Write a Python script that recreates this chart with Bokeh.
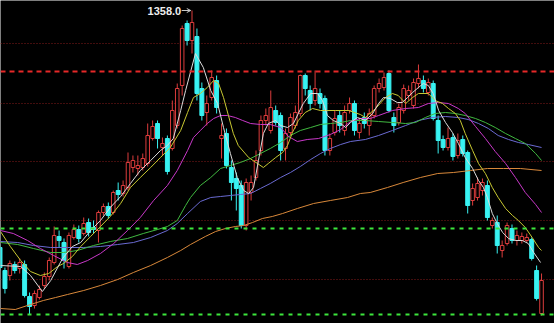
from bokeh.plotting import figure
from bokeh.models import Range1d, Span, Arrow, OpenHead
from bokeh.embed import file_html
from bokeh.resources import INLINE
from bokeh.core.properties import value

# ---------------- data ----------------
opens = [1239.5, 1228, 1225.5, 1231, 1229, 1231, 1215, 1210.5, 1214.5, 1220.5,
         1225, 1232, 1245, 1242, 1230, 1244.5, 1248.5, 1246.5, 1252, 1249.5,
         1248, 1257, 1260, 1257, 1268, 1266.5, 1269.5, 1279.5, 1279, 1279.5,
         1281.5, 1294, 1301.5, 1289.5, 1294, 1289, 1300.5, 1320.5, 1351.5, 1343,
         1345, 1319, 1307, 1314.5, 1323, 1294, 1296.5, 1279.5, 1274, 1270.5,
         1250.5, 1267, 1274.5, 1288, 1303, 1298, 1308, 1305.5, 1289, 1297,
         1300.5, 1306.5, 1325.5, 1318, 1313, 1316.5, 1314, 1288, 1297, 1305.5,
         1298, 1308, 1311.5, 1297, 1304.5, 1300.5, 1305.5, 1319, 1319.5, 1326.5,
         1304.5, 1302, 1308, 1315.5, 1310.5, 1321.5, 1323, 1317, 1321.5, 1303,
         1293.5, 1289.5, 1294.5, 1285.5, 1293.5, 1287, 1263, 1264.5, 1268, 1270.5,
         1250.5, 1252, 1238, 1241.5, 1249, 1243, 1243, 1243, 1243.5, 1228,
         1206.5]
highs = [1241, 1229.5, 1233, 1232.5, 1234, 1233, 1217, 1218, 1220.5, 1227,
         1234.5, 1250, 1248, 1244, 1247, 1251, 1250.5, 1254.5, 1254, 1253,
         1258, 1261.5, 1262, 1268, 1272, 1273, 1287, 1285.5, 1285.5, 1286.5,
         1301.5, 1303, 1303, 1294.5, 1295.5, 1313, 1321.5, 1350.5, 1353, 1358,
         1349, 1322, 1315.5, 1328, 1325.5, 1301.5, 1299, 1283, 1277, 1273,
         1274, 1275.5, 1288, 1305.5, 1309, 1318, 1310.5, 1307, 1299, 1306.5,
         1310.5, 1326, 1326.5, 1320.5, 1328, 1319, 1315.5, 1296.5, 1308, 1308,
         1310.5, 1314.5, 1313, 1304, 1307, 1309, 1320.5, 1324, 1327, 1328,
         1307, 1311.5, 1321, 1320.5, 1324, 1331, 1325.5, 1324, 1323, 1305.5,
         1295.5, 1299.5, 1296.5, 1296.5, 1295.5, 1288, 1271.5, 1274.5, 1274, 1273,
         1254.5, 1255.5, 1243, 1252, 1251, 1248, 1247, 1246.5, 1244.5, 1230.5,
         1226.5]
lows = [1228, 1216.5, 1223, 1226.5, 1226.5, 1214.5, 1206, 1209, 1213.5, 1219,
        1223, 1231, 1239.5, 1229, 1229, 1243.5, 1242, 1245.5, 1245, 1246.5,
        1242, 1255.5, 1254, 1256, 1263, 1265, 1268, 1277, 1275.5, 1278,
        1280, 1293, 1289, 1285.5, 1276, 1288, 1299, 1315.5, 1340.5, 1336.5,
        1313, 1303, 1300.5, 1313, 1306.5, 1284, 1279, 1263, 1258, 1249,
        1248, 1263, 1273, 1285.5, 1300.5, 1296.5, 1300.5, 1283, 1283, 1295.5,
        1299, 1305, 1315.5, 1308, 1310.5, 1309, 1285.5, 1285.5, 1295.5, 1297,
        1295.5, 1306.5, 1295.5, 1294, 1299, 1295.5, 1304, 1317, 1318, 1307,
        1297, 1300.5, 1306.5, 1313, 1309, 1319, 1317, 1315.5, 1303, 1286.5,
        1288, 1288, 1283, 1284, 1285, 1256.5, 1260.5, 1263, 1265.5, 1253,
        1249, 1236.5, 1234.5, 1240.5, 1241.5, 1240.5, 1241.5, 1242, 1233, 1213,
        1205.5]
closes = [1229.5, 1219, 1231.5, 1228, 1232, 1215.5, 1210, 1216.5, 1218.5, 1225,
          1233, 1245.5, 1243, 1233, 1245.5, 1248.5, 1244, 1251.5, 1247, 1248.5,
          1257, 1260, 1255.5, 1267, 1266, 1270.5, 1282, 1283, 1280.5, 1284,
          1295.5, 1300, 1294, 1291.5, 1277.5, 1308, 1319, 1349, 1343, 1352,
          1316.5, 1305.5, 1311.5, 1324.5, 1309.5, 1295.5, 1280.5, 1272, 1269, 1250.5,
          1272, 1272, 1283, 1303, 1305.5, 1309.5, 1302, 1288, 1296.5, 1304.5,
          1307, 1325.5, 1319, 1311.5, 1319, 1311.5, 1288, 1294, 1304, 1300.5,
          1307, 1311.5, 1298, 1301.5, 1301.5, 1306.5, 1319, 1321.5, 1324.5, 1308,
          1300.5, 1309.5, 1319, 1318, 1322, 1324, 1319, 1322, 1304, 1293,
          1289.5, 1294, 1285, 1293, 1286.5, 1260.5, 1269, 1271.5, 1272, 1254.5,
          1253, 1240.5, 1240.5, 1250.5, 1243, 1245.5, 1245, 1244.5, 1234, 1214,
          1223]

# moving averages (read as points: bar position, price)
ma5_x = [0.1, 4.2, 6.2, 8.6, 10.3, 12.7, 14.7, 16.4, 18.4, 20.4, 22.4, 24.5, 26.5, 28.5,
         30.6, 32.6, 34.0, 35.2, 36.7, 37.7, 39.7, 41.3, 42.8, 44.2, 45.4, 46.8, 48.2,
         49.5, 50.5, 51.5, 52.5, 53.5, 54.5, 56.0, 57.0, 58.4, 59.6, 60.6, 61.6, 63.1,
         64.5, 65.5, 66.5, 67.7, 69.2, 70.2, 71.2, 72.6, 74.2, 75.7, 76.9, 77.9, 79.3,
         80.7, 81.7, 82.8, 83.8, 85.0, 86.0, 87.0, 88.0, 89.1, 90.5, 91.9, 93.1, 94.5,
         96.0, 97.2, 98.2, 99.0, 100.0, 101.0, 102.1, 103.3, 104.7, 106.1, 107.3, 108.4, 109.8]
ma5_y = [1230.5, 1230, 1225.5, 1217.5, 1223, 1234, 1240, 1242, 1248, 1253, 1259.5, 1265,
         1271.5, 1278, 1283, 1288, 1290.5, 1294, 1308, 1318, 1336.5, 1329.5, 1318, 1311.5,
         1299.5, 1286.5, 1274.5, 1268, 1266.5, 1269.5, 1283, 1296.5, 1301.5, 1303, 1300.5,
         1299.5, 1301.5, 1306.5, 1311.5, 1316.5, 1316.5, 1313, 1305.5, 1303, 1301.5, 1299.5,
         1302, 1304.5, 1303, 1306.5, 1311.5, 1314.5, 1314, 1312, 1312, 1314.5, 1317, 1319.5,
         1321.5, 1320.5, 1316.5, 1308, 1302, 1297, 1291.5, 1284.5, 1279, 1273, 1269.5,
         1264.5, 1256.5, 1251.5, 1247, 1244, 1243, 1243, 1241.5, 1237, 1232]

ma10_x = [0.1, 2.1, 4.2, 6.2, 8.2, 9.9, 11.7, 12.9, 14.7, 16.4, 18.4, 20.4, 22.4, 24.5, 26.5,
          28.5, 30.6, 32.6, 34.6, 36.7, 38.1, 39.3, 40.7, 42.1, 43.4, 44.4, 45.4, 46.4, 47.4,
          48.4, 50.5, 52.3, 53.5, 54.5, 56.0, 57.4, 58.4, 59.4, 60.6, 62.0, 63.5, 65.1, 68.1,
          70.8, 73.2, 74.2, 76.3, 78.3, 79.7, 80.9, 82.4, 83.8, 85.0, 87.0, 88.4, 89.9, 91.1,
          92.5, 93.5, 94.5, 96.0, 97.2, 98.6, 100.0, 101.2, 102.7, 104.1, 105.3, 106.7, 108.1,
          109.4, 110.0]
ma10_y = [1247.5, 1240, 1233, 1227.5, 1225.5, 1226.5, 1230, 1231.5, 1235, 1240, 1245, 1250,
          1255, 1261.5, 1269.5, 1274.5, 1279.5, 1284.5, 1289.5, 1298, 1307, 1314.5, 1316.5,
          1319.5, 1323, 1321.5, 1314.5, 1305.5, 1296.5, 1290.5, 1284.5, 1281.5, 1279.5,
          1281.5, 1284.5, 1287, 1290.5, 1297, 1303, 1307, 1309, 1308, 1308, 1308, 1306,
          1304.5, 1309, 1314.5, 1316.5, 1315.5, 1311.5, 1314.5, 1316.5, 1316.5, 1313, 1311.5,
          1309, 1306.5, 1303, 1296.5, 1288, 1281.5, 1276.5, 1269.5, 1264.5, 1259, 1255.5,
          1253, 1249.5, 1244.5, 1239.5, 1238]

ma20_x = [0.1, 2.7, 5.6, 8.2, 10.9, 13.7, 15.7, 17.8, 20.4, 23.1, 25.9, 28.5, 31.2, 34.0,
          36.0, 38.1, 39.3, 40.7, 42.1, 43.4, 44.8, 46.2, 47.8, 49.3, 50.9, 52.9, 54.9, 57.0,
          58.6, 60.4, 62.4, 64.7, 67.1, 69.2, 71.2, 73.2, 75.2, 76.9, 79.7, 82.4, 85.0, 87.0,
          89.1, 91.1, 93.1, 94.5, 96.6, 98.6, 100.6, 102.7, 104.7, 106.7, 108.8, 110.0]
ma20_y = [1248, 1246.5, 1243, 1239, 1235.5, 1232, 1231, 1233, 1236.5, 1241.5, 1248, 1254.5,
          1263, 1270.5, 1278, 1288, 1294.5, 1298, 1301.5, 1304, 1305.5, 1305.5, 1304.5, 1303,
          1301.5, 1301, 1301, 1299.5, 1295, 1292.5, 1293.5, 1294, 1296, 1298.5, 1302.5, 1304,
          1304, 1305.5, 1308, 1309, 1309.5, 1311.5, 1312, 1311.5, 1309, 1306.5, 1300, 1294,
          1287.5, 1281.5, 1274.5, 1267, 1261, 1257]

ma30_x = [0.1, 3.6, 6.8, 10.3, 12.9, 15.7, 19.0, 22.4, 25.9, 29.1, 32.0, 34.0, 36.0, 37.7,
          38.7, 40.7, 42.8, 44.8, 46.8, 48.8, 50.9, 52.9, 54.9, 57.0, 59.0, 61.0, 63.1, 65.1,
          67.1, 69.2, 71.2, 74.2, 76.9, 79.7, 82.4, 84.4, 86.4, 88.4, 90.5, 92.5, 94.5, 96.6,
          98.6, 100.6, 102.7, 104.7, 106.7, 108.8, 110.0]
ma30_y = [1242, 1241, 1239, 1237, 1237, 1238, 1240.5, 1242.5, 1244, 1246.5, 1248.5, 1250,
          1253, 1260.5, 1264.5, 1270.5, 1274.5, 1279, 1280.5, 1282, 1284, 1286.5, 1289, 1292,
          1295.5, 1298, 1299.5, 1301, 1301.5, 1302, 1303, 1303, 1302.5, 1302, 1301.5, 1302,
          1304.5, 1306.5, 1307, 1306.5, 1305.5, 1304, 1302, 1299.5, 1296.5, 1294, 1291.5,
          1286.5, 1283]

ma60_x = [0.1, 3.6, 6.8, 10.3, 13.7, 17.0, 20.4, 23.9, 27.1, 30.6, 34.0, 36.0, 38.1, 40.7,
          42.8, 44.8, 46.8, 48.8, 50.9, 52.9, 54.9, 57.0, 59.0, 61.0, 63.1, 65.1, 67.1, 69.2,
          71.2, 74.2, 76.9, 79.7, 82.4, 85.0, 87.8, 90.5, 93.1, 95.1, 97.2, 99.2, 101.2, 103.3,
          105.3, 107.3, 110.0]
ma60_y = [1242.5, 1242, 1240.5, 1239.5, 1239.5, 1239.5, 1240, 1241, 1242, 1244.5, 1248,
          1251.5, 1256.5, 1262.5, 1264.5, 1265, 1265.5, 1266, 1266.5, 1269, 1271.5, 1274.5,
          1277, 1280, 1283.5, 1286.5, 1289, 1291, 1292.5, 1293.5, 1295.5, 1298, 1300.5, 1303,
          1304.5, 1305, 1304.5, 1303.5, 1301.5, 1299, 1295.5, 1293.5, 1292, 1291, 1289.5]

ma120_x = [0.1, 3.1, 6.2, 8.8, 11.3, 13.7, 17.0, 20.4, 23.9, 27.1, 30.6, 34.0, 36.7, 38.7,
           41.7, 43.8, 45.8, 47.8, 49.5, 51.3, 53.3, 55.3, 57.4, 60.4, 63.7, 67.1, 70.6, 73.2,
           75.2, 78.7, 81.9, 85.4, 88.9, 92.1, 95.6, 99.0, 102.3, 105.7, 110.0]
ma120_y = [1209, 1208.5, 1211, 1213, 1214.5, 1216, 1218, 1220.5, 1223.5, 1227, 1230.5,
           1234.5, 1238, 1241, 1245, 1247.5, 1249, 1250, 1250.5, 1252, 1254, 1255, 1256.5,
           1259, 1261.5, 1263, 1264.5, 1266.5, 1267, 1269.5, 1272, 1274.5, 1276.5, 1277, 1278,
           1279, 1279, 1279, 1278]

grid_levels = [1341.5, 1311.5, 1282.5, 1253, 1223.5]
resistance_levels = [1327.5]
support_levels = [1249, 1206]

# ---------------- figure ----------------
n = len(opens)
idx = list(range(n))
px_per_bar = 4.923
x0 = 0.1
p = figure(width=554, height=323, output_backend="svg", toolbar_location=None,
           x_range=Range1d(x0, x0 + 554 / px_per_bar), y_range=Range1d(1201.5, 1363),
           min_border=0, min_border_left=0, min_border_right=0,
           min_border_top=0, min_border_bottom=0)
p.background_fill_color = "#000000"
p.border_fill_color = "#000000"
p.outline_line_color = None
p.xaxis.visible = False
p.yaxis.visible = False
p.xgrid.visible = False
p.ygrid.visible = False

for lv in grid_levels:
    p.add_layout(Span(location=lv, dimension="width", line_color="#841a1a",
                      line_dash="1 2", line_width=1, level="underlay"))

UP = "#dc3c3c"
DN = "#38f2f2"

up_i = [i for i in idx if closes[i] >= opens[i]]
dn_i = [i for i in idx if closes[i] < opens[i]]

def body_top(i):
    return max(opens[i], closes[i])

def body_bot(i):
    return min(opens[i], closes[i])

# wicks
for group, col in ((up_i, UP), (dn_i, DN)):
    p.segment(x0=group, y0=[highs[i] for i in group], x1=group,
              y1=[body_top(i) for i in group], line_color=col, line_width=1)
    p.segment(x0=group, y0=[body_bot(i) for i in group], x1=group,
              y1=[lows[i] for i in group], line_color=col, line_width=1)

p.vbar(x=up_i, width=0.72, top=[closes[i] for i in up_i], bottom=[opens[i] for i in up_i],
       fill_color="#000000", line_color=UP, line_width=1)
p.vbar(x=dn_i, width=0.8, top=[opens[i] for i in dn_i], bottom=[closes[i] for i in dn_i],
       fill_color=DN, line_color=DN, line_width=1)

# moving averages
p.line(ma120_x, ma120_y, line_color="#d8883a", line_width=1)
p.line(ma60_x, ma60_y, line_color="#6a6ad2", line_width=1)
p.line(ma30_x, ma30_y, line_color="#40b840", line_width=1)
p.line(ma20_x, ma20_y, line_color="#c838c8", line_width=1)
p.line(ma10_x, ma10_y, line_color="#c8c832", line_width=1)
p.line(ma5_x, ma5_y, line_color="#dcdcdc", line_width=1)

# drawn support / resistance lines
for lv in resistance_levels:
    p.add_layout(Span(location=lv, dimension="width", line_color="#e62828",
                      line_dash="5 4", line_width=2))
for lv in support_levels:
    p.add_layout(Span(location=lv, dimension="width", line_color="#3ce63c",
                      line_dash="4 5", line_width=2))

# max-high label with arrow
hi = max(highs)
hi_i = highs.index(hi)
p.add_layout(Arrow(end=OpenHead(size=4, line_color="#c8c8c8", line_width=1),
                   x_start=hi_i - 2.1, y_start=hi, x_end=hi_i - 0.25, y_end=hi,
                   line_color="#c8c8c8", line_width=1))
p.text(x=[hi_i - 2.2], y=[hi], text=[f"{hi:.1f}"], text_color="#eeeeee",
       text_font=value("Liberation Sans"), text_font_size="11px", text_font_style="bold",
       text_align="right", text_baseline="middle")

open("out.html", "w").write(file_html(p, INLINE))
